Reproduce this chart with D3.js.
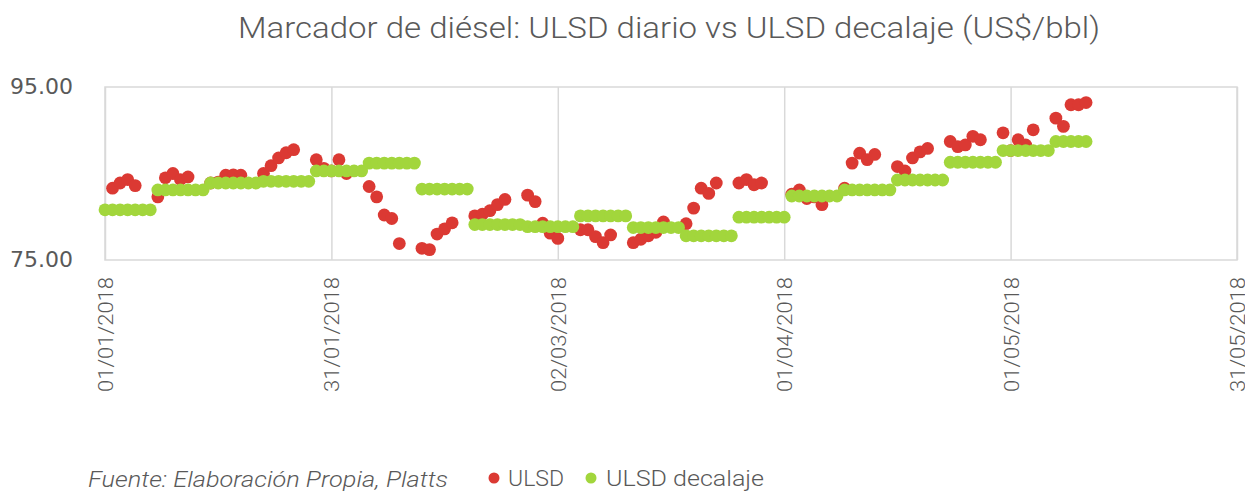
<!DOCTYPE html>
<html>
<head>
<meta charset="utf-8">
<script src="https://cdn.jsdelivr.net/npm/d3@7"></script>
<style>
  html, body { margin: 0; padding: 0; background: #ffffff; }
  svg { display: block; }
</style>
</head>
<body>
<svg id="chart" width="1245" height="491"></svg>
<script>
// ULSD daily assessments (US$/bbl)
const ulsdDates = [
  "02/01/2018","03/01/2018","04/01/2018","05/01/2018",
  "08/01/2018","09/01/2018","10/01/2018","11/01/2018","12/01/2018",
  "15/01/2018","16/01/2018","17/01/2018","18/01/2018","19/01/2018",
  "22/01/2018","23/01/2018","24/01/2018","25/01/2018","26/01/2018",
  "29/01/2018","30/01/2018","31/01/2018","01/02/2018","02/02/2018",
  "05/02/2018","06/02/2018","07/02/2018","08/02/2018","09/02/2018",
  "12/02/2018","13/02/2018","14/02/2018","15/02/2018","16/02/2018",
  "19/02/2018","20/02/2018","21/02/2018","22/02/2018","23/02/2018",
  "26/02/2018","27/02/2018","28/02/2018","01/03/2018","02/03/2018",
  "05/03/2018","06/03/2018","07/03/2018","08/03/2018","09/03/2018",
  "12/03/2018","13/03/2018","14/03/2018","15/03/2018","16/03/2018",
  "19/03/2018","20/03/2018","21/03/2018","22/03/2018","23/03/2018",
  "26/03/2018","27/03/2018","28/03/2018","29/03/2018",
  "02/04/2018","03/04/2018","04/04/2018","05/04/2018","06/04/2018",
  "09/04/2018","10/04/2018","11/04/2018","12/04/2018","13/04/2018",
  "16/04/2018","17/04/2018","18/04/2018","19/04/2018","20/04/2018",
  "23/04/2018","24/04/2018","25/04/2018","26/04/2018","27/04/2018",
  "30/04/2018","01/05/2018","02/05/2018","03/05/2018","04/05/2018",
  "07/05/2018","08/05/2018","09/05/2018","10/05/2018","11/05/2018"
];
const ulsdValues = [
  83.3, 83.9, 84.3, 83.6,
  82.3, 84.5, 85.0, 84.3, 84.6,
  83.9, 84.0, 84.8, 84.85, 84.8,
  85.0, 85.9, 86.8, 87.4, 87.75,
  86.6, 85.6, 85.3, 86.6, 85.0,
  83.5, 82.3, 80.2, 79.8, 76.9,
  76.35, 76.2, 78.0, 78.6, 79.3,
  80.1, 80.3, 80.7, 81.4, 82.0,
  82.5, 81.75, 79.25, 78.1, 77.5,
  78.5, 78.5, 77.7, 77.0, 77.9,
  77.0, 77.4, 77.8, 78.2, 79.4,
  79.2, 81.0, 83.3, 82.7, 83.9,
  83.9, 84.3, 83.7, 83.9,
  82.6, 83.1, 82.1, 82.3, 81.4,
  83.3, 86.2, 87.35, 86.6, 87.2,
  85.8, 85.3, 86.8, 87.5, 87.9,
  88.7, 88.1, 88.3, 89.3, 88.9,
  89.7, 87.65, 88.9, 88.3, 90.05,
  91.4, 90.45, 92.95, 92.95, 93.2
];

// ULSD decalaje: one value per calendar day starting 01/01/2018
const decalajeStart = "01/01/2018";
const decalajeValues = [
  80.8, 80.8, 80.8, 80.8, 80.8, 80.8, 80.8,
  83.1, 83.1, 83.1, 83.1, 83.1, 83.1, 83.1,
  83.9, 83.9, 83.9, 83.9, 83.9, 83.9, 83.9,
  84.1, 84.1, 84.1, 84.1, 84.1, 84.1, 84.1,
  85.3, 85.3, 85.3, 85.3, 85.3, 85.3, 85.3,
  86.2, 86.2, 86.2, 86.2, 86.2, 86.2, 86.2,
  83.2, 83.2, 83.2, 83.2, 83.2, 83.2, 83.2,
  79.1, 79.1, 79.1, 79.1, 79.1, 79.1, 79.1,
  78.85, 78.85, 78.85, 78.85, 78.85, 78.85, 78.85,
  80.1, 80.1, 80.1, 80.1, 80.1, 80.1, 80.1,
  78.75, 78.75, 78.75, 78.75, 78.75, 78.75, 78.75,
  77.8, 77.8, 77.8, 77.8, 77.8, 77.8, 77.8,
  79.95, 79.95, 79.95, 79.95, 79.95, 79.95, 79.95,
  82.4, 82.4, 82.4, 82.4, 82.4, 82.4, 82.4,
  83.1, 83.1, 83.1, 83.1, 83.1, 83.1, 83.1,
  84.25, 84.25, 84.25, 84.25, 84.25, 84.25, 84.25,
  86.3, 86.3, 86.3, 86.3, 86.3, 86.3, 86.3,
  87.65, 87.65, 87.65, 87.65, 87.65, 87.65, 87.65,
  88.7, 88.7, 88.7, 88.7, 88.7
];

const xTickLabels = ["01/01/2018", "31/01/2018", "02/03/2018", "01/04/2018", "01/05/2018", "31/05/2018"];
const yTickValues = [75, 95];

const titleText = "Marcador de diésel: ULSD diario vs  ULSD decalaje (US$/bbl)";
const sourceText = "Fuente: Elaboración Propia, Platts";
const seriesNames = ["ULSD", "ULSD decalaje"];
const seriesColors = ["#db3933", "#a2d63c"];

const parse = d3.utcParse("%d/%m/%Y");
const fmt = d3.utcFormat("%d/%m/%Y");

const ulsd = ulsdDates.map((d, i) => ({ date: parse(d), value: ulsdValues[i] }));
const startDay = parse(decalajeStart);
const decalaje = decalajeValues.map((v, i) => ({ date: d3.utcDay.offset(startDay, i), value: v }));

const svg = d3.select("#chart");
const plot = { left: 105, right: 1237, top: 87, bottom: 260 };

const x = d3.scaleUtc()
  .domain([parse(xTickLabels[0]), parse(xTickLabels[xTickLabels.length - 1])])
  .range([plot.left, plot.right]);
const y = d3.scaleLinear().domain([75, 95]).range([plot.bottom, plot.top]);

const grey = "#595959";
const gridColor = "#d9d9d9";
const lightFont = "Roboto, 'Open Sans', sans-serif";

// Title
svg.append("text")
  .attr("x", 238).attr("y", 38)
  .attr("font-family", lightFont)
  .attr("font-weight", 300)
  .attr("font-size", 29)
  .attr("fill", grey)
  .attr("textLength", 862)
  .attr("lengthAdjust", "spacingAndGlyphs")
  .text(titleText);

// Vertical gridlines at the date ticks
const gridAxis = d3.axisBottom(x)
  .tickValues(xTickLabels.map(parse))
  .tickSize(-(plot.bottom - plot.top))
  .tickFormat("");
svg.append("g")
  .attr("transform", `translate(0,${plot.bottom})`)
  .call(gridAxis)
  .call(g => g.select(".domain").remove())
  .call(g => g.selectAll("line").attr("stroke", gridColor).attr("stroke-width", 1.5));

// Plot frame
svg.append("rect")
  .attr("x", plot.left).attr("y", plot.top)
  .attr("width", plot.right - plot.left).attr("height", plot.bottom - plot.top)
  .attr("fill", "none").attr("stroke", gridColor).attr("stroke-width", 1.5);

// Y axis labels
const yAxis = d3.axisLeft(y).tickValues(yTickValues).tickSize(0).tickPadding(0)
  .tickFormat(d3.format(".2f"));
svg.append("g")
  .attr("transform", `translate(73,0)`)
  .call(yAxis)
  .call(g => g.select(".domain").remove())
  .call(g => g.selectAll("text")
    .attr("font-family", "'DejaVu Sans', sans-serif")
    .attr("font-size", 22)
    .attr("fill", grey)
    .attr("dy", "0.3em"));

// X axis labels, rotated
const xAxis = d3.axisBottom(x).tickValues(xTickLabels.map(parse)).tickSize(0).tickFormat(fmt);
svg.append("g")
  .attr("transform", `translate(0,${plot.bottom})`)
  .call(xAxis)
  .call(g => g.select(".domain").remove())
  .call(g => g.selectAll("text")
    .attr("font-family", lightFont)
    .attr("font-weight", 300)
    .attr("font-size", 21)
    .attr("fill", grey)
    .attr("text-anchor", "end")
    .attr("transform", "rotate(-90)")
    .attr("x", -17)
    .attr("y", 0)
    .attr("dy", "0.36em")
    .attr("textLength", 115)
    .attr("lengthAdjust", "spacingAndGlyphs"));

// Series points
const r = 6.4;
svg.append("g").selectAll("circle")
  .data(ulsd).join("circle")
  .attr("cx", d => x(d.date)).attr("cy", d => y(d.value))
  .attr("r", r).attr("fill", seriesColors[0]);

svg.append("g").selectAll("circle")
  .data(decalaje).join("circle")
  .attr("cx", d => x(d.date)).attr("cy", d => y(d.value))
  .attr("r", r).attr("fill", seriesColors[1]);

// Source note
svg.append("text")
  .attr("x", 88).attr("y", 487)
  .attr("font-family", lightFont)
  .attr("font-weight", 300)
  .attr("font-style", "italic")
  .attr("font-size", 22)
  .attr("fill", grey)
  .attr("textLength", 360)
  .attr("lengthAdjust", "spacingAndGlyphs")
  .text(sourceText);

// Legend
const legendItems = [
  { name: seriesNames[0], color: seriesColors[0], cx: 494, tx: 508, len: 56 },
  { name: seriesNames[1], color: seriesColors[1], cx: 591, tx: 606, len: 158 }
];
const lg = svg.append("g");
legendItems.forEach(it => {
  lg.append("circle").attr("cx", it.cx).attr("cy", 478).attr("r", 5.5).attr("fill", it.color);
  lg.append("text")
    .attr("x", it.tx).attr("y", 486)
    .attr("font-family", lightFont)
    .attr("font-weight", 300)
    .attr("font-size", 22)
    .attr("fill", grey)
    .attr("textLength", it.len)
    .attr("lengthAdjust", "spacingAndGlyphs")
    .text(it.name);
});
</script>
</body>
</html>
